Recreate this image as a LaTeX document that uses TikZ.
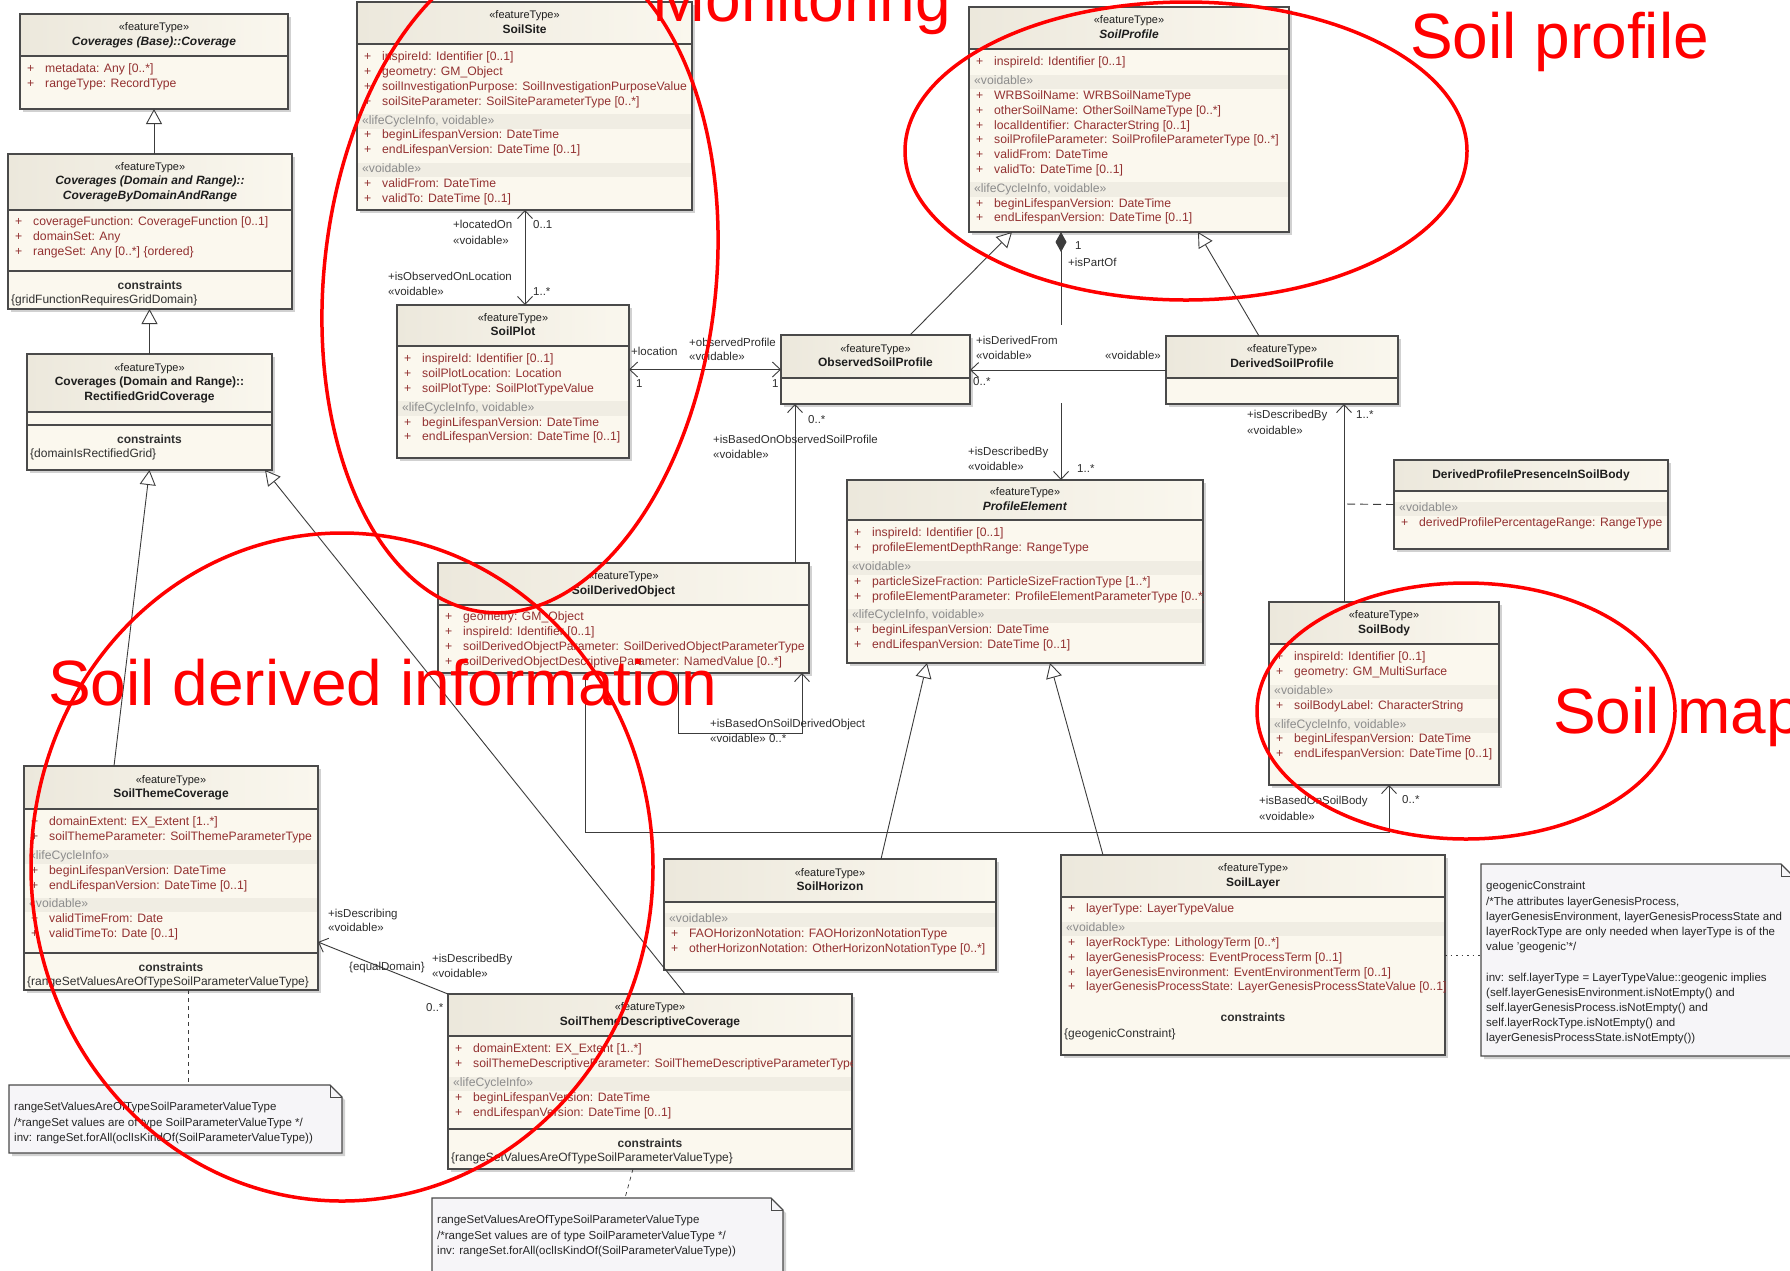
\documentclass[tikz,border=0pt]{standalone}
\usepackage{fontspec}
\setmainfont{Liberation Sans}
\usetikzlibrary{arrows.meta,shadows}

\definecolor{boxc}{HTML}{FBF8EE}
\definecolor{hdrL}{HTML}{ECE8DC}
\definecolor{hdrR}{HTML}{FAF7EE}
\definecolor{bordc}{HTML}{4A4A4A}
\definecolor{attrc}{HTML}{933131}
\definecolor{sterc}{HTML}{8C8C8C}
\definecolor{bandc}{HTML}{F0EDE3}
\definecolor{linec}{HTML}{3C3C3C}
\definecolor{lblc}{HTML}{2E2E2E}
\definecolor{titc}{HTML}{1E1E1E}
\definecolor{consc}{HTML}{303030}
\definecolor{notec}{HTML}{F6F5F8}
\definecolor{redc}{HTML}{FF0000}

\newcommand\bandw{100pt}
\newcommand\uAtt[1]{\strut\makebox[18pt][l]{+}#1}
\newcommand\uSte[1]{\strut\hspace*{-2pt}\rlap{\hspace*{-4pt}\textcolor{bandc}{\rule[-4.4pt]{\bandw}{14.4pt}}}\textcolor{sterc}{«#1»}}
\newcommand\fT{\strut{\fontsize{11}{14.5}\selectfont «featureType»}}

\tikzset{
  boxbg/.style={fill=boxc, inner sep=0pt, outer sep=0pt,
    drop shadow={shadow xshift=3pt, shadow yshift=-3pt, fill=black!40, opacity=0.45}},
  boxln/.style={draw=bordc, line width=1.4pt},
  titlenode/.style={align=center, inner sep=0pt, text=titc, font=\fontsize{12}{14.5}\selectfont},
  attrnode/.style={anchor=north west, align=left, inner sep=0pt, text=attrc, font=\fontsize{12.2}{14.8}\selectfont},
  consnode/.style={inner sep=0pt, text=consc, font=\fontsize{12}{14.8}\selectfont},
  lblnode/.style={anchor=base west, inner sep=0pt, text=lblc, font=\fontsize{11.5}{14}\selectfont},
  notetext/.style={anchor=north west, align=left, inner sep=0pt, text=black!85, font=\fontsize{11.5}{15.2}\selectfont},
  notebg/.style={fill=notec, draw=bordc, line width=1.2pt,
    drop shadow={shadow xshift=3pt, shadow yshift=-3pt, fill=black!40, opacity=0.45}},
  redtxt/.style={text=redc, inner sep=0pt, anchor=base west, font=\fontsize{64}{70}\selectfont},
  redl/.style={draw=redc, line width=3.5pt},
  conn/.style={draw=linec, line width=0.9pt},
  nav/.style={conn, -{Straight Barb[length=8pt,width=15pt]}},
  navb/.style={conn, {Straight Barb[length=8pt,width=15pt]}-{Straight Barb[length=8pt,width=15pt]}},
  gen/.style={conn, -{Triangle[open, fill=white, length=15pt, width=16pt]}},
  comp/.style={conn, {Diamond[length=20pt,width=11pt]}-{Straight Barb[length=8pt,width=15pt]}},
  notelink/.style={conn, line width=0.7pt, dash pattern=on 4pt off 4pt},
  dotlink/.style={conn, line width=0.9pt, dash pattern=on 1.5pt off 4pt},
  aclink/.style={conn, dash pattern=on 8pt off 5pt},
}

\newcommand\umlbox[7]{%
  \node[boxbg, minimum width={#4-#2}, minimum height={#5-#3}] (#1) at ({(#2+#4)/2},{(#3+#5)/2}) {};
  \shade[left color=hdrL, right color=hdrR] (#2,#3) rectangle (#4,#6);
  \draw[boxln] (#2,#3) rectangle (#4,#5);
  \draw[boxln] (#2,#6) -- (#4,#6);
  \node[titlenode] (#1-t) at ({(#2+#4)/2},{(#3+#6)/2}) {#7};
  \pgfmathsetlengthmacro\bandw{#4-#2-2}%
}
\newcommand\umlattrs[4]{%
  \begin{scope}
    \clip (#1.north west) rectangle (#1.south east);
    \node[attrnode] (#1-a) at ({#2+7},{#3+6.4}) {#4};
  \end{scope}}
\newcommand\umlcons[5]{%
  \draw[boxln] (#2,#4) -- (#3,#4);
  \begin{scope}
    \clip (#1.north west) rectangle (#1.south east);
    \node[consnode, anchor=base] (#1-c1) at ({(#2+#3)/2},{#4+18}) {\textbf{constraints}};
    \node[consnode, anchor=base west] (#1-c2) at ({#2+3},{#4+32}) {#5};
  \end{scope}}
\newcommand\umlnote[5]{%
  \node[inner sep=0pt, outer sep=0pt, minimum width={#4-#2}, minimum height={#5-#3}] (#1) at ({(#2+#4)/2},{(#3+#5)/2}) {};
  \path[notebg] (#2,#3) -- ({#4-12},#3) -- (#4,{#3+12}) -- (#4,#5) -- (#2,#5) -- cycle;
  \draw[draw=bordc, line width=1pt] ({#4-12},#3) -- ({#4-12},{#3+12}) -- (#4,{#3+12});
}
\newcommand\lbl[4]{\node[lblnode] (#1) at ({#2},{#3+4}) {#4};}

\begin{document}
\begin{tikzpicture}[x=1pt,y=-1pt]
\useasboundingbox (0,0) rectangle (1790,1270);
\clip (0,0) rectangle (1790,1270);
\fill[white] (0,0) rectangle (1790,1270);

% ---------- Coverage classes ----------
\umlbox{cov}{20}{14}{288}{109}{56}{\fT\\\strut\textbf{\textit{Coverages (Base)::Coverage}}}
\umlattrs{cov}{20}{56}{\uAtt{metadata: Any [0..*]}\\\uAtt{rangeType: RecordType}}

\umlbox{cbdr}{8}{154}{292}{309}{210}{\fT\\\strut\textbf{\textit{Coverages (Domain and Range)::}}\\\strut\textbf{\textit{CoverageByDomainAndRange}}}
\umlattrs{cbdr}{8}{209}{\uAtt{coverageFunction: CoverageFunction [0..1]}\\\uAtt{domainSet: Any}\\\uAtt{rangeSet: Any [0..*] \{ordered\}}}
\umlcons{cbdr}{8}{292}{271}{\{gridFunctionRequiresGridDomain\}}

\umlbox{rgc}{27}{354}{272}{470}{412}{\fT\\\strut\textbf{Coverages (Domain and Range)::}\\\strut\textbf{RectifiedGridCoverage}}
\umlcons{rgc}{27}{272}{425}{\{domainIsRectifiedGrid\}}

% ---------- SoilSite ----------
\umlbox{soilsite}{357}{2}{692}{210}{44}{\fT\\\strut\textbf{SoilSite}}
\umlattrs{soilsite}{357}{44}{\uAtt{inspireId: Identifier [0..1]}\\
\uAtt{geometry: GM\_Object}\\
\uAtt{soilInvestigationPurpose: SoilInvestigationPurposeValue}\\
\uAtt{soilSiteParameter: SoilSiteParameterType [0..*]}\\[4pt]
\uSte{lifeCycleInfo, voidable}\\
\uAtt{beginLifespanVersion: DateTime}\\
\uAtt{endLifespanVersion: DateTime [0..1]}\\[4pt]
\uSte{voidable}\\
\uAtt{validFrom: DateTime}\\
\uAtt{validTo: DateTime [0..1]}}

% ---------- SoilProfile ----------
\umlbox{soilprofile}{969}{7}{1289}{232}{49}{\fT\\\strut\textbf{\textit{SoilProfile}}}
\umlattrs{soilprofile}{969}{49}{\uAtt{inspireId: Identifier [0..1]}\\[4pt]
\uSte{voidable}\\
\uAtt{WRBSoilName: WRBSoilNameType}\\
\uAtt{otherSoilName: OtherSoilNameType [0..*]}\\
\uAtt{localIdentifier: CharacterString [0..1]}\\
\uAtt{soilProfileParameter: SoilProfileParameterType [0..*]}\\
\uAtt{validFrom: DateTime}\\
\uAtt{validTo: DateTime [0..1]}\\[4pt]
\uSte{lifeCycleInfo, voidable}\\
\uAtt{beginLifespanVersion: DateTime}\\
\uAtt{endLifespanVersion: DateTime [0..1]}}

% ---------- SoilPlot ----------
\umlbox{soilplot}{397}{305}{629}{458}{346}{\fT\\\strut\textbf{SoilPlot}}
\umlattrs{soilplot}{397}{346}{\uAtt{inspireId: Identifier [0..1]}\\
\uAtt{soilPlotLocation: Location}\\
\uAtt{soilPlotType: SoilPlotTypeValue}\\[4pt]
\uSte{lifeCycleInfo, voidable}\\
\uAtt{beginLifespanVersion: DateTime}\\
\uAtt{endLifespanVersion: DateTime [0..1]}}

% ---------- Observed / Derived profiles ----------
\umlbox{observed}{781}{335}{970}{404}{378}{\fT\\\strut\textbf{ObservedSoilProfile}}
\umlbox{derived}{1166}{336}{1398}{404}{378}{\fT\\\strut\textbf{DerivedSoilProfile}}

\umlbox{dpp}{1394}{460}{1668}{549}{491}{\strut\textbf{DerivedProfilePresenceInSoilBody}}
\umlattrs{dpp}{1394}{495}{\uSte{voidable}\\\uAtt{derivedProfilePercentageRange: RangeType}}

% ---------- SoilBody ----------
\umlbox{soilbody}{1269}{602}{1499}{785}{644}{\fT\\\strut\textbf{SoilBody}}
\umlattrs{soilbody}{1269}{644}{\uAtt{inspireId: Identifier [0..1]}\\
\uAtt{geometry: GM\_MultiSurface}\\[4pt]
\uSte{voidable}\\
\uAtt{soilBodyLabel: CharacterString}\\[4pt]
\uSte{lifeCycleInfo, voidable}\\
\uAtt{beginLifespanVersion: DateTime}\\
\uAtt{endLifespanVersion: DateTime [0..1]}}

% ---------- ProfileElement ----------
\umlbox{profel}{847}{480}{1203}{663}{520}{\fT\\\strut\textbf{\textit{ProfileElement}}}
\umlattrs{profel}{847}{520}{\uAtt{inspireId: Identifier [0..1]}\\
\uAtt{profileElementDepthRange: RangeType}\\[4pt]
\uSte{voidable}\\
\uAtt{particleSizeFraction: ParticleSizeFractionType [1..*]}\\
\uAtt{profileElementParameter: ProfileElementParameterType [0..*]}\\[4pt]
\uSte{lifeCycleInfo, voidable}\\
\uAtt{beginLifespanVersion: DateTime}\\
\uAtt{endLifespanVersion: DateTime [0..1]}}

% ---------- SoilDerivedObject ----------
\umlbox{sdo}{438}{563}{809}{673}{605}{\fT\\\strut\textbf{SoilDerivedObject}}
\umlattrs{sdo}{438}{604}{\uAtt{geometry: GM\_Object}\\
\uAtt{inspireId: Identifier [0..1]}\\
\uAtt{soilDerivedObjectParameter: SoilDerivedObjectParameterType}\\
\uAtt{soilDerivedObjectDescriptiveParameter: NamedValue [0..*]}}

% ---------- SoilThemeCoverage ----------
\umlbox{stc}{24}{766}{318}{990}{809}{\fT\\\strut\textbf{SoilThemeCoverage}}
\umlattrs{stc}{24}{809}{\uAtt{domainExtent: EX\_Extent [1..*]}\\
\uAtt{soilThemeParameter: SoilThemeParameterType}\\[4pt]
\uSte{lifeCycleInfo}\\
\uAtt{beginLifespanVersion: DateTime}\\
\uAtt{endLifespanVersion: DateTime [0..1]}\\[4pt]
\uSte{voidable}\\
\uAtt{validTimeFrom: Date}\\
\uAtt{validTimeTo: Date [0..1]}}
\umlcons{stc}{24}{318}{953}{\{rangeSetValuesAreOfTypeSoilParameterValueType\}}

% ---------- SoilThemeDescriptiveCoverage ----------
\umlbox{stdc}{448}{994}{852}{1169}{1036}{\fT\\\strut\textbf{SoilThemeDescriptiveCoverage}}
\umlattrs{stdc}{448}{1036}{\uAtt{domainExtent: EX\_Extent [1..*]}\\
\uAtt{soilThemeDescriptiveParameter: SoilThemeDescriptiveParameterType}\\[4pt]
\uSte{lifeCycleInfo}\\
\uAtt{beginLifespanVersion: DateTime}\\
\uAtt{endLifespanVersion: DateTime [0..1]}}
\umlcons{stdc}{448}{852}{1129}{\{rangeSetValuesAreOfTypeSoilParameterValueType\}}

% ---------- SoilHorizon / SoilLayer ----------
\umlbox{soilhorizon}{664}{859}{996}{970}{902}{\fT\\\strut\textbf{SoilHorizon}}
\umlattrs{soilhorizon}{664}{906}{\uSte{voidable}\\
\uAtt{FAOHorizonNotation: FAOHorizonNotationType}\\
\uAtt{otherHorizonNotation: OtherHorizonNotationType [0..*]}}

\umlbox{soillayer}{1061}{855}{1445}{1055}{897}{\fT\\\strut\textbf{SoilLayer}}
\umlattrs{soillayer}{1061}{896}{\uAtt{layerType: LayerTypeValue}\\[4pt]
\uSte{voidable}\\
\uAtt{layerRockType: LithologyTerm [0..*]}\\
\uAtt{layerGenesisProcess: EventProcessTerm [0..1]}\\
\uAtt{layerGenesisEnvironment: EventEnvironmentTerm [0..1]}\\
\uAtt{layerGenesisProcessState: LayerGenesisProcessStateValue [0..1]}}
\node[consnode, anchor=base] (soillayer-c1) at (1253,1021) {\textbf{constraints}};
\node[consnode, anchor=base west] (soillayer-c2) at (1064,1037) {\{geogenicConstraint\}};

% ---------- Notes ----------
\umlnote{note1}{9}{1085}{342}{1153}
\node[notetext] (note1-t) at (14,1100) {\strut rangeSetValuesAreOfTypeSoilParameterValueType\\
\strut /*rangeSet values are of type SoilParameterValueType */\\
\strut inv: rangeSet.forAll(oclIsKindOf(SoilParameterValueType))};

\umlnote{note2}{432}{1198}{783}{1300}
\node[notetext] (note2-t) at (437,1213) {\strut rangeSetValuesAreOfTypeSoilParameterValueType\\
\strut /*rangeSet values are of type SoilParameterValueType */\\
\strut inv: rangeSet.forAll(oclIsKindOf(SoilParameterValueType))};

\umlnote{note3}{1481}{864}{1793}{1056}
\node[notetext] (note3-t) at (1486,879) {\strut geogenicConstraint\\
\strut /*The attributes layerGenesisProcess,\\
\strut layerGenesisEnvironment, layerGenesisProcessState and\\
\strut layerRockType are only needed when layerType is of the\\
\strut value 'geogenic'*/\\
\strut\\
\strut inv: self.layerType = LayerTypeValue::geogenic implies\\
\strut (self.layerGenesisEnvironment.isNotEmpty() and\\
\strut self.layerGenesisProcess.isNotEmpty() and\\
\strut self.layerRockType.isNotEmpty() and\\
\strut layerGenesisProcessState.isNotEmpty())};

% ---------- Connectors ----------
\draw[gen] (cbdr.north -| cov.south) -- (cov.south);
\draw[gen] (rgc.north) -- (rgc.north |- cbdr.south);
\draw[gen] ([xshift=90pt]stc.north west) -- (rgc.south);
\draw[gen] ([xshift=237pt]stdc.north west) -- ([xshift=-7pt]rgc.south east);
\draw[gen] ([xshift=129pt]observed.north west) -- ([xshift=43pt]soilprofile.south west);
\draw[gen] ([xshift=93pt]derived.north west) -- ([xshift=229pt]soilprofile.south west);
\draw[gen] ([xshift=217pt]soilhorizon.north west) -- ([xshift=80pt]profel.south west);
\draw[gen] ([xshift=42pt]soillayer.north west) -- ([xshift=203pt]profel.south west);

\coordinate (cp1) at ([xshift=92pt]soilprofile.south west);
\draw[comp, dash pattern=on 74pt off 78pt on 300pt] (cp1) -- (cp1 |- profel.north);

\coordinate (sp1) at ([xshift=128pt]soilplot.north west);
\draw[navb] (sp1 |- soilsite.south) -- (sp1);
\draw[navb] (observed.west -| soilplot.east) -- (observed.west);
\draw[nav] (derived.west) -- (derived.west -| observed.east);

\coordinate (sd1) at ([xshift=357pt]sdo.north west);
\draw[nav] (sd1) -- (sd1 |- observed.south);
\draw[nav] ([xshift=240pt]sdo.south west) -- ++(0,60) -| ([xshift=364pt]sdo.south west);
\draw[nav] ([xshift=147pt]sdo.south west) -- ++(0,159) -| ([xshift=120pt]soilbody.south west);

\coordinate (sb1) at ([xshift=75pt]soilbody.north west);
\draw[nav] (sb1) -- (sb1 |- derived.south);
\coordinate (ac) at (1344,504);
\draw[aclink] (dpp.west) -- (ac);

\draw[nav] (stdc.north west) -- ([yshift=-64pt]stc.east);

\coordinate (n1) at ([xshift=164pt]stc.south west);
\draw[notelink] (n1) -- (n1 |- note1.north);
\draw[notelink] ([xshift=185pt]stdc.south west) -- ([xshift=193pt]note2.north west);
\draw[dotlink] (soillayer.east) -- (soillayer.east -| note3.west);

% ---------- Labels ----------
\lbl{l1}{453}{224}{+locatedOn}
\lbl{l2}{453}{240}{«voidable»}
\lbl{l3}{533}{224}{0..1}
\lbl{l4}{388}{276}{+isObservedOnLocation}
\lbl{l5}{388}{291}{«voidable»}
\lbl{l6}{533}{291}{1..*}
\lbl{l7}{631}{351}{+location}
\lbl{l8}{636}{383}{1}
\lbl{l9}{689}{342}{+observedProfile}
\lbl{l10}{689}{356}{«voidable»}
\lbl{l11}{772}{383}{1}
\lbl{l12}{808}{419}{0..*}
\lbl{l13}{713}{439}{+isBasedOnObservedSoilProfile}
\lbl{l14}{713}{454}{«voidable»}
\lbl{l15}{976}{340}{+isDerivedFrom}
\lbl{l16}{976}{355}{«voidable»}
\lbl{l17}{973}{381}{0..*}
\lbl{l18}{1105}{355}{«voidable»}
\lbl{l19}{1075}{245}{1}
\lbl{l20}{1068}{262}{+isPartOf}
\lbl{l21}{968}{451}{+isDescribedBy}
\lbl{l22}{968}{466}{«voidable»}
\lbl{l23}{1077}{468}{1..*}
\lbl{l24}{1247}{414}{+isDescribedBy}
\lbl{l25}{1247}{430}{«voidable»}
\lbl{l26}{1356}{414}{1..*}
\lbl{l27}{710}{723}{+isBasedOnSoilDerivedObject}
\lbl{l28}{710}{738}{«voidable» 0..*}
\lbl{l29}{1259}{800}{+isBasedOnSoilBody}
\lbl{l30}{1259}{816}{«voidable»}
\lbl{l31}{1402}{799}{0..*}
\lbl{l32}{328}{913}{+isDescribing}
\lbl{l33}{328}{927}{«voidable»}
\lbl{l34}{349}{966}{\{equalDomain\}}
\lbl{l35}{432}{958}{+isDescribedBy}
\lbl{l36}{432}{973}{«voidable»}
\lbl{l37}{426}{1007}{0..*}

% ---------- Red annotations ----------
\draw[redl, rotate around={-6:(520,279)}] (520,279) ellipse [x radius=196, y radius=335];
\draw[redl] (1186,151) ellipse [x radius=281, y radius=149];
\draw[redl] (342,867) ellipse [x radius=311, y radius=334];
\draw[redl] (1466,711) ellipse [x radius=209, y radius=128];
\node[redtxt] (t-mon) at (652,21) {Monitoring};
\node[redtxt] (t-prof) at (1410,58) {Soil profile};
\node[redtxt] (t-der) at (48,705) {Soil derived information};
\node[redtxt] (t-map) at (1553,733) {Soil map};
\end{tikzpicture}
\end{document}
